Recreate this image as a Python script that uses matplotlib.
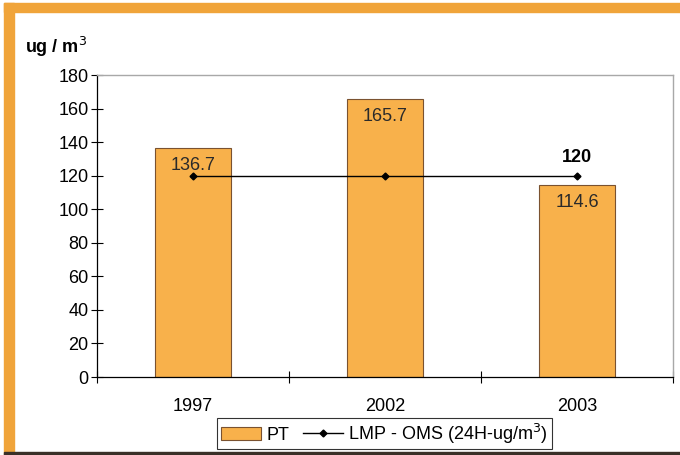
import matplotlib
matplotlib.use("Agg")
import matplotlib.pyplot as plt
from matplotlib.patches import Rectangle
import numpy as np

plt.rcParams['font.family'] = ['Liberation Sans', 'DejaVu Sans']

# datos
years = ['1997', '2002', '2003']
pt = [136.7, 165.7, 114.6]
lmp = [120, 120, 120]
pt_labels = ['136.7', '165.7', '114.6']

bar_color = '#F8B14B'
frame_orange = '#F0A43A'

fig = plt.figure(figsize=(6.8, 4.55), dpi=100)
fig.patch.set_facecolor('white')

# marco del grafico (borde naranja arriba e izquierda, linea oscura abajo)
fig.patches.append(Rectangle((4 / 680, 0), 10 / 680, 1 - 3 / 455,
                             transform=fig.transFigure, color=frame_orange, zorder=0))
fig.patches.append(Rectangle((4 / 680, 1 - 12 / 455), 1, 9 / 455,
                             transform=fig.transFigure, color=frame_orange, zorder=0))
fig.patches.append(Rectangle((4 / 680, 0), 1, 3 / 455,
                             transform=fig.transFigure, color='#3a3028', zorder=0))

ax = fig.add_axes([97 / 680, 1 - 377 / 455, 576 / 680, 302 / 455])
x = np.arange(len(years))

bars = ax.bar(x, pt, width=0.4, color=bar_color, edgecolor='#7a5230',
              linewidth=0.8, label='PT', zorder=2)
line, = ax.plot(x, lmp, color='black', linewidth=1, marker='D', markersize=3.5,
                label='LMP - OMS (24H-ug/m$^3$)', zorder=3)

for xi, v, lab in zip(x, pt, pt_labels):
    ax.annotate(lab, (xi, v), xytext=(0, -6.5), textcoords='offset points',
                ha='center', va='top', fontsize=13, color='#2a2a2a', zorder=4)

ax.annotate('120', (x[-1], lmp[-1]), xytext=(0, 7), textcoords='offset points',
            ha='center', va='bottom', fontsize=13, fontweight='bold')

ax.set_xlim(-0.5, 2.5)
ax.set_ylim(0, 180)
ax.set_yticks(np.arange(0, 181, 20))
ax.set_xticks(x)
ax.set_xticklabels(years, fontsize=13)
ax.set_xticks([-0.5, 0.5, 1.5, 2.5], minor=True)
ax.tick_params(axis='x', which='major', length=0, pad=15)
ax.tick_params(axis='x', which='minor', direction='inout', length=8, width=0.8)
ax.tick_params(axis='y', direction='inout', length=8, width=0.8, labelsize=13, pad=2)

for s in ['top', 'right']:
    ax.spines[s].set_color('#a8a8a8')
    ax.spines[s].set_linewidth(1)
for s in ['left', 'bottom']:
    ax.spines[s].set_color('black')
    ax.spines[s].set_linewidth(0.9)

fig.text(25 / 680, 1 - 47 / 455, 'ug / m$^3$', fontsize=13, fontweight='bold',
         ha='left', va='center')

leg = fig.legend([bars, line], ['PT', 'LMP - OMS (24H-ug/m$^3$)'],
                 loc='center', bbox_to_anchor=(384.5 / 680, 1 - 433.5 / 455),
                 ncol=2, fontsize=13, frameon=True, fancybox=False,
                 edgecolor='black', handlelength=2.2, handletextpad=0.3,
                 columnspacing=0.8, borderpad=0.2)
leg.get_frame().set_linewidth(0.8)

fig.savefig('out.png', dpi=100)
